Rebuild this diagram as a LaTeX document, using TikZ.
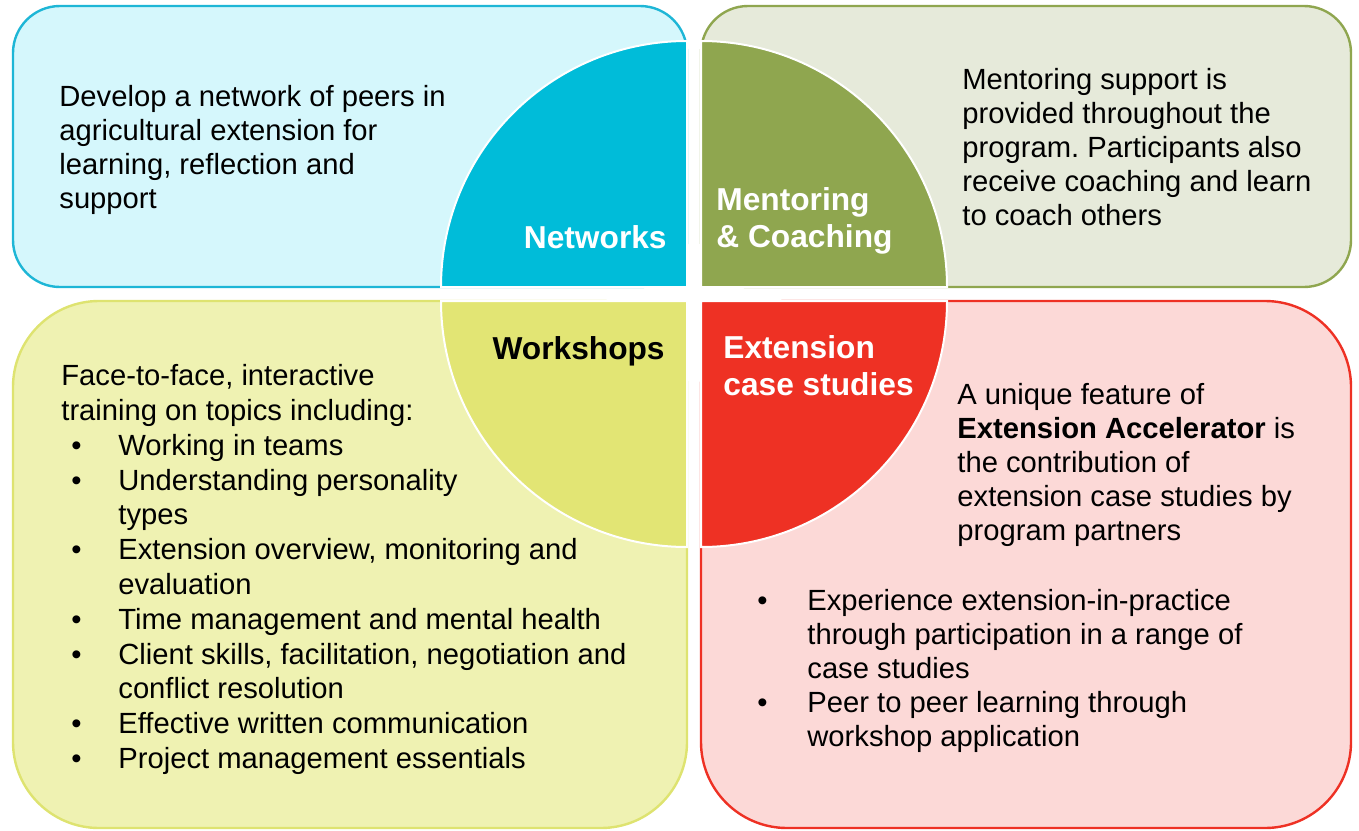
\documentclass[tikz,border=0pt]{standalone}
\usepackage{fontspec}
\setmainfont{Liberation Sans}
\usetikzlibrary{positioning}
\frenchspacing

\definecolor{netq}{RGB}{0,188,217}
\definecolor{netbg}{RGB}{213,247,252}
\definecolor{netline}{RGB}{30,182,214}
\definecolor{menq}{RGB}{143,166,79}
\definecolor{menbg}{RGB}{230,234,218}
\definecolor{wksq}{RGB}{226,229,116}
\definecolor{wksbg}{RGB}{239,242,178}
\definecolor{wksline}{RGB}{222,227,112}
\definecolor{extq}{RGB}{238,49,36}
\definecolor{extbg}{RGB}{252,217,215}

\tikzset{
  cadre/.style={line width=1.2pt, rounded corners=23.5pt},
  grandcadre/.style={line width=1.2pt, rounded corners=43pt},
  quart/.style={draw=white, line width=1pt},
  texte/.style={font=\fontsize{14.6}{17}\selectfont, align=left, anchor=north west, inner sep=0pt},
  titre/.style={font=\fontsize{15.85}{18.5}\selectfont\bfseries, text=white, align=left, inner sep=0pt},
}
\newcommand{\puce}[1]{\makebox[#1][l]{\textbullet}}

\begin{document}
\begin{tikzpicture}[x=0.5pt,y=-0.5pt]
\useasboundingbox (0,0) rectangle (1359,830);

\draw[cadre, draw=netline, fill=netbg] (13,6) rectangle (687,287);%les cadres
\draw[cadre, draw=menq, fill=menbg] (701,6) rectangle (1351,287);
\draw[grandcadre, draw=wksline, fill=wksbg] (13,301) rectangle (687,828);
\draw[grandcadre, draw=extq, fill=extbg] (701,301) rectangle (1351,828);

\filldraw[quart, fill=netq] (687,287) -- (441,287) arc[start angle=180, end angle=270, radius=246] -- cycle;%les quarts
\filldraw[quart, fill=menq] (701,287) -- (701,41) arc[start angle=270, end angle=360, radius=246] -- cycle;
\filldraw[quart, fill=wksq] (687,301) -- (441,301) arc[start angle=180, end angle=90, radius=246] -- cycle;
\filldraw[quart, fill=extq] (701,301) -- (947,301) arc[start angle=0, end angle=90, radius=246] -- cycle;

\node[titre, anchor=base east] (networks) at (667,248) {Networks};%les titres
\node[titre, anchor=north west] (mentoring) at (716,184) {\strut Mentoring\\\& Coaching};
\node[titre, text=black, anchor=base east] (workshops) at (665,359) {Workshops};
\node[titre, anchor=north west] (extension) at (723,332) {\strut Extension\\case studies};

\node[texte] (nettexte) at (59,82) {\strut Develop a network of peers in\\agricultural extension for\\learning, reflection and\\support};
\node[texte] (mentexte) at (962,65) {\strut Mentoring support is\\provided throughout the\\program. Participants also\\receive coaching and learn\\to coach others};
\node[texte] (exttexte) at (957,380) {\strut A unique feature of\\\textbf{Extension Accelerator} is\\the contribution of\\extension case studies by\\program partners};
\node[texte] (extpuces) at (757,586) {\strut\puce{25pt}Experience extension-in-practice\\
  \hspace*{25pt}through participation in a range of\\
  \hspace*{25pt}case studies\\
  \puce{25pt}Peer to peer learning through\\
  \hspace*{25pt}workshop application};

\node[texte, font=\fontsize{14.6}{17.4}\selectfont] (wkstexte) at (61,361) {\strut Face-to-face, interactive\\
  training on topics including:\\
  \hspace*{5pt}\puce{23.5pt}Working in teams\\
  \hspace*{5pt}\puce{23.5pt}Understanding personality\\
  \hspace*{28.5pt}types\\
  \hspace*{5pt}\puce{23.5pt}Extension overview, monitoring and\\
  \hspace*{28.5pt}evaluation\\
  \hspace*{5pt}\puce{23.5pt}Time management and mental health\\
  \hspace*{5pt}\puce{23.5pt}Client skills, facilitation, negotiation and\\
  \hspace*{28.5pt}conflict resolution\\
  \hspace*{5pt}\puce{23.5pt}Effective written communication\\
  \hspace*{5pt}\puce{23.5pt}Project management essentials};
\end{tikzpicture}
\end{document}
